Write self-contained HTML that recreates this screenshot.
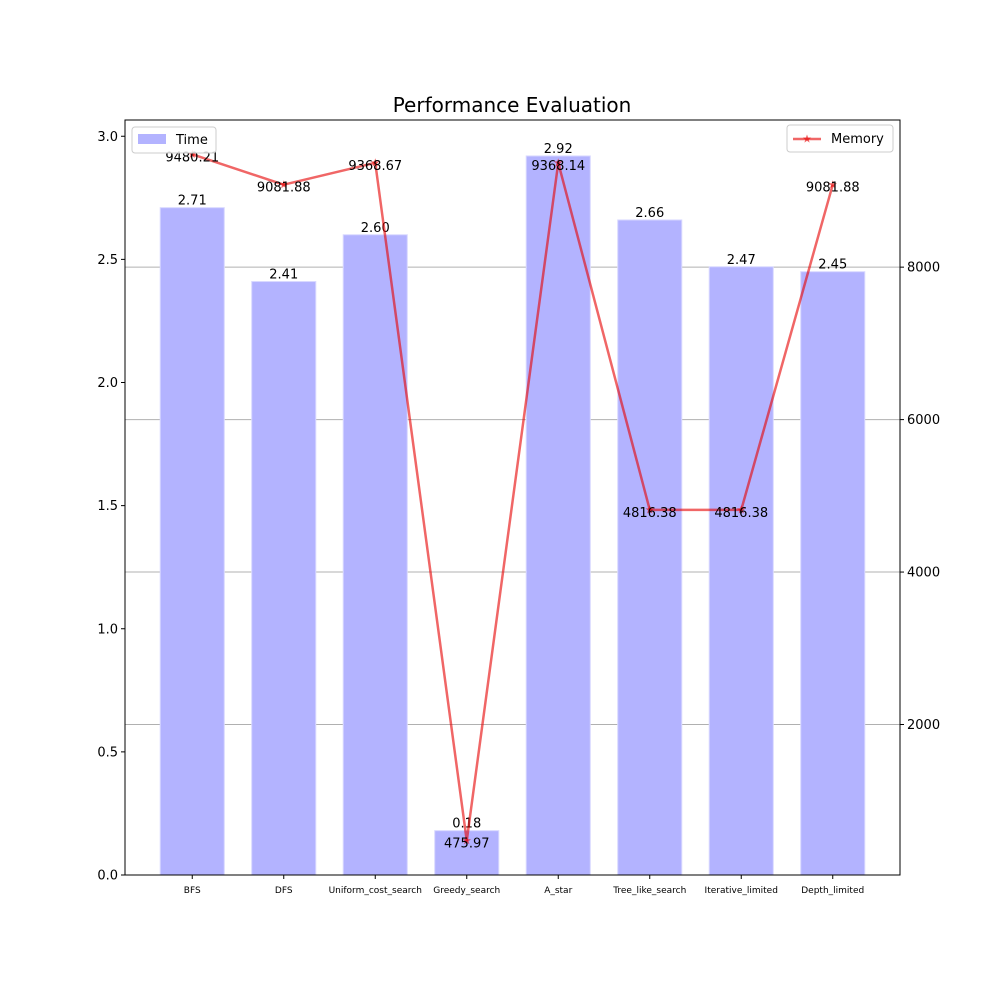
<!DOCTYPE html>
<html><head><meta charset="utf-8"><style>body{margin:0;background:#fff}svg{font-family:"DejaVu Sans","Liberation Sans",sans-serif}</style></head>
<body>
<svg id="c" width="1000" height="1000" xmlns="http://www.w3.org/2000/svg"></svg>
<script>
const categories=["BFS","DFS","Uniform_cost_search","Greedy_search","A_star","Tree_like_search","Iterative_limited","Depth_limited"];
const timeValues=[2.71,2.41,2.60,0.18,2.92,2.66,2.47,2.45];
const memoryValues=[9480.21,9081.88,9368.67,475.97,9368.14,4816.38,4816.38,9081.88];
const leftTicks=[0,0.5,1.0,1.5,2.0,2.5,3.0];
const rightTicks=[2000,4000,6000,8000];
const L=125,R=900,T=120,B=875;
const n=categories.length;
const xmin=-0.35-0.05*(n-1+0.7),xmax=n-1+0.35+0.05*(n-1+0.7);
const x=i=>L+(i-xmin)/(xmax-xmin)*(R-L);
const tmax=Math.max(...timeValues)*1.05;
const yL=v=>B-v/tmax*(B-T);
const mmin=Math.min(...memoryValues),mmax=Math.max(...memoryValues),mr=mmax-mmin;
const m0=mmin-0.05*mr,m1=mmax+0.05*mr;
const yR=v=>B-(v-m0)/(m1-m0)*(B-T);
const svg=document.getElementById('c');
const NS="http://www.w3.org/2000/svg";
function el(tag,attrs,parent){const e=document.createElementNS(NS,tag);for(const k in attrs)e.setAttribute(k,attrs[k]);(parent||svg).appendChild(e);return e;}
function txt(s,attrs){const e=el('text',attrs);e.textContent=s;return e;}
let t=txt("Performance Evaluation",{x:512,y:112,"font-size":20,"text-anchor":"middle"});

rightTicks.forEach(v=>{const g=el('line',{x1:L,x2:R,y1:yR(v),y2:yR(v),stroke:"#b0b0b0","stroke-width":1});
});
categories.forEach((c,i)=>{const w=0.7*(x(1)-x(0));
const b=el('rect',{x:x(i)-w/2,y:yL(timeValues[i]),width:w,height:B-yL(timeValues[i]),fill:"#b3b3ff",stroke:"#d8d8ff","stroke-width":1});

const l=txt(timeValues[i].toFixed(2),{x:x(i),y:yL(timeValues[i])-3,"font-size":13,"text-anchor":"middle"});

const xl=txt(c,{x:x(i),y:B+18,"font-size":9,"text-anchor":"middle"});

el('line',{x1:x(i),x2:x(i),y1:B,y2:B+4,stroke:"#000"});});
const pts=memoryValues.map((v,i)=>x(i)+","+yR(v)).join(" ");
const ln=el('polyline',{points:pts,fill:"none",stroke:"rgba(230,0,0,0.6)","stroke-width":2.5,"stroke-linejoin":"round"});

function star(cx,cy,r,parent){let p=[];for(let k=0;k<10;k++){const a=-Math.PI/2+k*Math.PI/5,rr=k%2?r*0.4:r;p.push((cx+rr*Math.cos(a)).toFixed(1)+","+(cy+rr*Math.sin(a)).toFixed(1));}return el('polygon',{points:p.join(" "),fill:"rgba(230,0,0,0.6)"},parent);}
memoryValues.forEach((v,i)=>{const s=star(x(i),yR(v),4.5);
const l=txt(v.toFixed(2),{x:x(i),y:yR(v)+7,"font-size":13,"text-anchor":"middle"});
});
const fr=el('rect',{x:L,y:T,width:R-L,height:B-T,fill:"none",stroke:"#000","stroke-width":1});

leftTicks.forEach(v=>{el('line',{x1:L-4,x2:L,y1:yL(v),y2:yL(v),stroke:"#000"});
const l=txt(v.toFixed(1),{x:L-7,y:yL(v)+4.5,"font-size":13,"text-anchor":"end"});
});
rightTicks.forEach(v=>{el('line',{x1:R,x2:R+4,y1:yR(v),y2:yR(v),stroke:"#000"});
const l=txt(String(v),{x:R+7,y:yR(v)+4.5,"font-size":13});
});
const lg1=el('g',{});
el('rect',{x:132,y:127,width:84,height:26,rx:3,fill:"#fff",stroke:"#ccc","fill-opacity":0.8},lg1);
el('rect',{x:138,y:134,width:28,height:10,fill:"#b3b3ff"},lg1);
const t1=el('text',{x:176,y:144,"font-size":13},lg1);t1.textContent="Time";
const lg2=el('g',{});
el('rect',{x:787,y:125,width:106,height:27,rx:3,fill:"#fff",stroke:"#ccc","fill-opacity":0.8},lg2);
el('line',{x1:793,x2:821,y1:139,y2:139,stroke:"rgba(230,0,0,0.6)","stroke-width":2.5},lg2);
star(807,139,4.5,lg2);
const t2=el('text',{x:831,y:143,"font-size":13},lg2);t2.textContent="Memory";
</script>
</body></html>
